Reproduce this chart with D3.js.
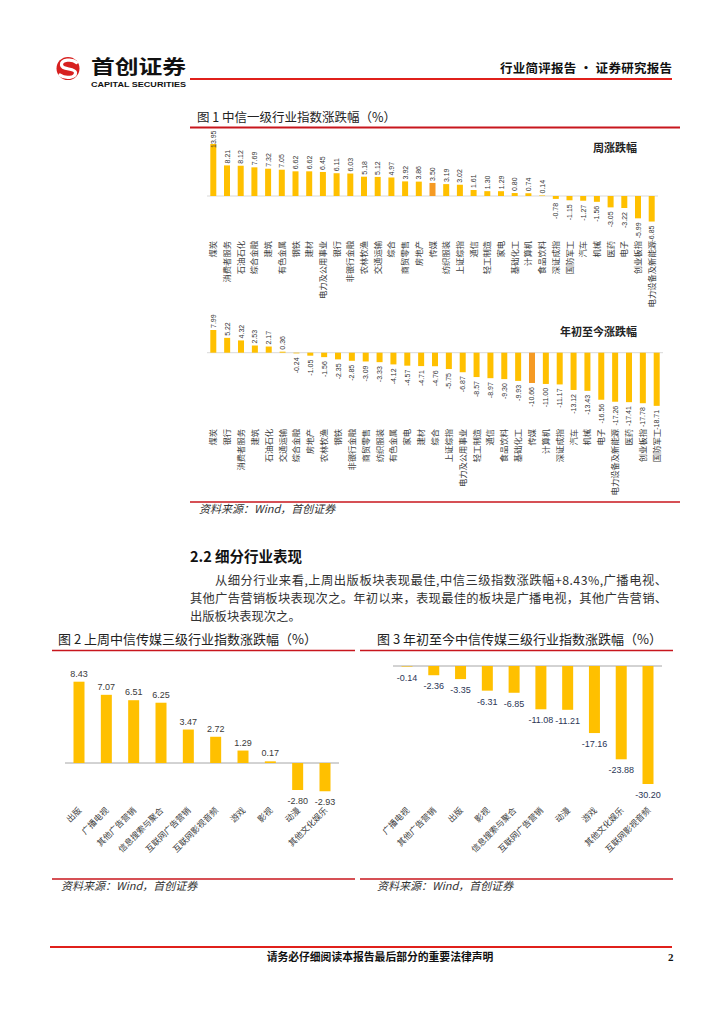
<!DOCTYPE html>
<html><head><meta charset="utf-8">
<script src="https://cdn.jsdelivr.net/npm/d3@7"></script>
<style>body{margin:0;background:#fff}svg{display:block}</style>
</head><body>
<svg id="page" width="724" height="1024"></svg>
<script>
// ---------- data ----------
const weekCats = ["煤炭","消费者服务","石油石化","综合金融","建筑","有色金属","钢铁","建材","电力及公用事业","银行","非银行金融","农林牧渔","交通运输","综合","商贸零售","房地产","传媒","纺织服装","上证综指","通信","轻工制造","家电","基础化工","计算机","食品饮料","深证成指","国防军工","汽车","机械","医药","电子","创业板指","电力设备及新能源"];
const weekVals = [13.95,8.21,8.12,7.69,7.32,7.05,6.62,6.62,6.45,6.11,6.03,5.18,5.12,4.97,3.92,3.86,3.50,3.19,3.02,1.61,1.30,1.29,0.80,0.74,0.14,-0.78,-1.15,-1.27,-1.56,-3.05,-3.22,-5.99,-6.85];
const ytdCats = ["煤炭","银行","消费者服务","建筑","石油石化","交通运输","综合金融","房地产","农林牧渔","钢铁","非银行金融","商贸零售","纺织服装","有色金属","家电","建材","综合","上证综指","电力及公用事业","轻工制造","通信","食品饮料","基础化工","传媒","计算机","深证成指","汽车","机械","电子","电力设备及新能源","医药","创业板指","国防军工"];
const ytdVals = [7.99,5.22,4.32,2.53,2.17,0.36,-0.24,-1.05,-1.56,-2.35,-2.85,-3.09,-3.33,-4.12,-4.57,-4.71,-4.76,-5.75,-6.87,-8.57,-8.97,-9.30,-9.93,-10.66,-11.00,-11.17,-13.12,-13.43,-16.56,-17.26,-17.41,-17.78,-18.71];
const highlightCat = "传媒";
const weekCats2 = ["出版","广播电视","其他广告营销","信息搜索与聚合","互联网广告营销","互联网影视音频","游戏","影视","动漫","其他文化娱乐"];
const weekVals2 = [8.43,7.07,6.51,6.25,3.47,2.72,1.29,0.17,-2.80,-2.93];
const ytdCats3 = ["广播电视","其他广告营销","出版","影视","信息搜索与聚合","互联网广告营销","动漫","游戏","其他文化娱乐","互联网影视音频"];
const ytdVals3 = [-0.14,-2.36,-3.35,-6.31,-6.85,-11.08,-11.21,-17.16,-23.88,-30.20];
const bodyLines = [
  "从细分行业来看,上周出版板块表现最佳,中信三级指数涨跌幅+8.43%,广播电视、",
  "其他广告营销板块表现次之。年初以来，表现最佳的板块是广播电视，其他广告营销、",
  "出版板块表现次之。"
];

// ---------- styles ----------
const CJK = "'Noto Sans CJK SC','Noto Sans',sans-serif";
const NUM = "'Liberation Sans',Arial,sans-serif";
const YEL = "#FFC000", ORG = "#F59A23", RED = "#C8161D", GRID = "#D9D9D9";

const svg = d3.select("#page");

// ---------- header ----------
const hd = svg.append("g");
hd.append("circle").attr("cx", 68).attr("cy", 68.5).attr("r", 11.5).attr("fill", "#D7201F");
hd.append("path").attr("d", "M76.5,62.5 C72,58.5 61,59.5 61.5,65 C62,70.5 75,67.5 75.5,72.5 C76,78 65,79 60,75")
  .attr("fill", "none").attr("stroke", "#fff").attr("stroke-width", 3.2).attr("stroke-linecap", "round");
hd.append("text").attr("x", 91).attr("y", 74).attr("font-family", CJK).attr("font-weight", 700)
  .attr("font-size", 19).attr("textLength", 95).attr("lengthAdjust", "spacingAndGlyphs").attr("fill", "#111").text("首创证券");
hd.append("text").attr("x", 91).attr("y", 86.5).attr("font-family", NUM).attr("font-weight", 700)
  .attr("font-size", 7).attr("textLength", 95).attr("lengthAdjust", "spacingAndGlyphs").attr("fill", "#111").text("CAPITAL SECURITIES");
hd.append("line").attr("x1", 190).attr("x2", 672).attr("y1", 79).attr("y2", 79).attr("stroke", "#E0201B").attr("stroke-width", 2.2);
hd.append("text").attr("x", 500).attr("y", 73).attr("font-family", CJK).attr("font-weight", 700)
  .attr("font-size", 12.5).attr("textLength", 172).attr("fill", "#111").text("行业简评报告 · 证券研究报告");

// ---------- figure 1 ----------
const f1 = svg.append("g");
f1.append("text").attr("x", 197).attr("y", 122).attr("font-family", CJK).attr("font-size", 12.5).attr("fill", "#222")
  .text("图 1 中信一级行业指数涨跌幅（%）");
f1.append("line").attr("x1", 190).attr("x2", 680).attr("y1", 127.5).attr("y2", 127.5).attr("stroke", RED).attr("stroke-width", 2);

function verticalBars(g, cats, vals, xRange, zeroY, refVal, refY, lineX, catTopY, bw, minLabelY) {
  const x = d3.scalePoint().domain(cats).range(xRange);
  const y = d3.scaleLinear().domain([0, refVal]).range([zeroY, refY]);
  g.append("line").attr("x1", lineX[0]).attr("x2", lineX[1]).attr("y1", zeroY).attr("y2", zeroY)
    .attr("stroke", GRID).attr("stroke-width", 1);
  const data = cats.map((c, i) => ({c, v: vals[i]}));
  g.selectAll(null).data(data).enter().append("rect")
    .attr("x", d => x(d.c) - bw / 2).attr("width", bw)
    .attr("y", d => Math.min(y(d.v), y(0))).attr("height", d => Math.abs(y(d.v) - y(0)))
    .attr("fill", d => d.c === highlightCat ? ORG : YEL);
  g.selectAll(null).data(data).enter().append("text")
    .attr("transform", d => `translate(${x(d.c) + 2.5},${d.v >= 0 ? Math.max(y(d.v) - 2, minLabelY) : y(d.v) + 4}) rotate(-90)`)
    .attr("text-anchor", d => d.v >= 0 ? "start" : "end")
    .attr("font-family", NUM).attr("font-size", 7).attr("fill", "#333")
    .text(d => d.v.toFixed(2));
  g.selectAll(null).data(data).enter().append("text")
    .attr("transform", d => `translate(${x(d.c) + 3},${catTopY}) rotate(-90)`)
    .attr("text-anchor", "end")
    .attr("font-family", CJK).attr("font-size", 8.3).attr("fill", "#404040")
    .text(d => d.c);
}
verticalBars(f1.append("g"), weekCats, weekVals, [213.3, 651.7], 196, 13.95, 144, [207, 658], 241, 6, 148);
verticalBars(f1.append("g"), ytdCats, ytdVals, [213.3, 656.7], 352.7, 7.99, 330, [207, 663], 429, 6, 0);
f1.append("text").attr("x", 593).attr("y", 152).attr("font-family", CJK).attr("font-weight", 700)
  .attr("font-size", 11).attr("fill", "#222").text("周涨跌幅");
f1.append("text").attr("x", 560).attr("y", 336).attr("font-family", CJK).attr("font-weight", 700)
  .attr("font-size", 11).attr("fill", "#222").text("年初至今涨跌幅");
f1.append("line").attr("x1", 190).attr("x2", 680).attr("y1", 502).attr("y2", 502).attr("stroke", RED).attr("stroke-width", 1.5);
f1.append("text").attr("x", 199).attr("y", 513).attr("font-family", CJK).attr("font-style", "italic")
  .attr("font-size", 11).attr("fill", "#333").text("资料来源：Wind，首创证券");

// ---------- section text ----------
svg.append("text").attr("x", 190).attr("y", 562).attr("font-family", CJK).attr("font-weight", 700)
  .attr("font-size", 14.5).attr("fill", "#111").text("2.2  细分行业表现");
const bodyX = [215, 190, 190], bodyY = [585, 603, 621], bodyLen = [452, 477, null];
bodyLines.forEach((t, i) => {
  const tx = svg.append("text").attr("x", bodyX[i]).attr("y", bodyY[i]).attr("font-family", CJK)
    .attr("font-size", 12.3).attr("fill", "#333").text(t);
  if (bodyLen[i]) tx.attr("textLength", bodyLen[i]);
});

// ---------- figures 2 & 3 ----------
function smallChart(cats, vals, o) {
  const g = svg.append("g");
  g.append("text").attr("x", o.titleX).attr("y", 644).attr("font-family", CJK).attr("font-size", 13)
    .attr("fill", "#222").text(o.title);
  g.append("line").attr("x1", o.frame[0]).attr("x2", o.frame[1]).attr("y1", 650.5).attr("y2", 650.5)
    .attr("stroke", RED).attr("stroke-width", 1.5);
  const x = d3.scalePoint().domain(cats).range(o.xRange);
  const y = d3.scaleLinear().domain([0, o.refVal]).range([o.zeroY, o.refY]);
  g.append("line").attr("x1", o.lineX[0]).attr("x2", o.lineX[1]).attr("y1", o.zeroY).attr("y2", o.zeroY)
    .attr("stroke", "#A6A6A6").attr("stroke-width", 1);
  const data = cats.map((c, i) => ({c, v: vals[i]}));
  g.selectAll(null).data(data).enter().append("rect")
    .attr("x", d => x(d.c) - 5.5).attr("width", 11)
    .attr("y", d => Math.min(y(d.v), y(0))).attr("height", d => Math.abs(y(d.v) - y(0)))
    .attr("fill", YEL);
  g.selectAll(null).data(data).enter().append("text")
    .attr("x", d => x(d.c)).attr("y", d => d.v >= 0 ? y(d.v) - 5 : y(d.v) + 14)
    .attr("text-anchor", "middle").attr("font-family", NUM).attr("font-size", 9)
    .attr("fill", o.valColor).text(d => d.v.toFixed(2));
  g.selectAll(null).data(data).enter().append("text")
    .attr("transform", d => `translate(${x(d.c) + 3},${o.catY}) rotate(-45)`)
    .attr("text-anchor", "end").attr("font-family", CJK).attr("font-size", 8.5)
    .attr("fill", "#404040").text(d => d.c);
  g.append("line").attr("x1", o.frame[0]).attr("x2", o.frame[1]).attr("y1", 879).attr("y2", 879)
    .attr("stroke", RED).attr("stroke-width", 1.5);
  g.append("text").attr("x", o.srcX).attr("y", 890).attr("font-family", CJK).attr("font-style", "italic")
    .attr("font-size", 11).attr("fill", "#333").text("资料来源：Wind，首创证券");
}
smallChart(weekCats2, weekVals2, {
  title: "图 2 上周中信传媒三级行业指数涨跌幅（%）", titleX: 58, frame: [52, 355],
  xRange: [79, 325], zeroY: 763, refVal: 8.43, refY: 681.7, lineX: [65, 339], catY: 811,
  valColor: "#3A3A3A", srcX: 61
});
smallChart(ytdCats3, ytdVals3, {
  title: "图 3 年初至今中信传媒三级行业指数涨跌幅（%）", titleX: 377, frame: [360, 673],
  xRange: [407, 648], zeroY: 666, refVal: -30.20, refY: 784, lineX: [393, 662], catY: 811,
  valColor: "#2B3656", srcX: 377
});

// ---------- footer ----------
svg.append("line").attr("x1", 50).attr("x2", 672).attr("y1", 947).attr("y2", 947).attr("stroke", "#E0201B").attr("stroke-width", 2.2);
svg.append("text").attr("x", 380).attr("y", 961).attr("text-anchor", "middle").attr("font-family", CJK)
  .attr("font-weight", 700).attr("font-size", 10.8).attr("fill", "#111").text("请务必仔细阅读本报告最后部分的重要法律声明");
svg.append("text").attr("x", 668).attr("y", 961).attr("font-family", "'Liberation Serif',serif")
  .attr("font-weight", 700).attr("font-size", 11).attr("fill", "#111").text("2");
</script>
</body></html>
